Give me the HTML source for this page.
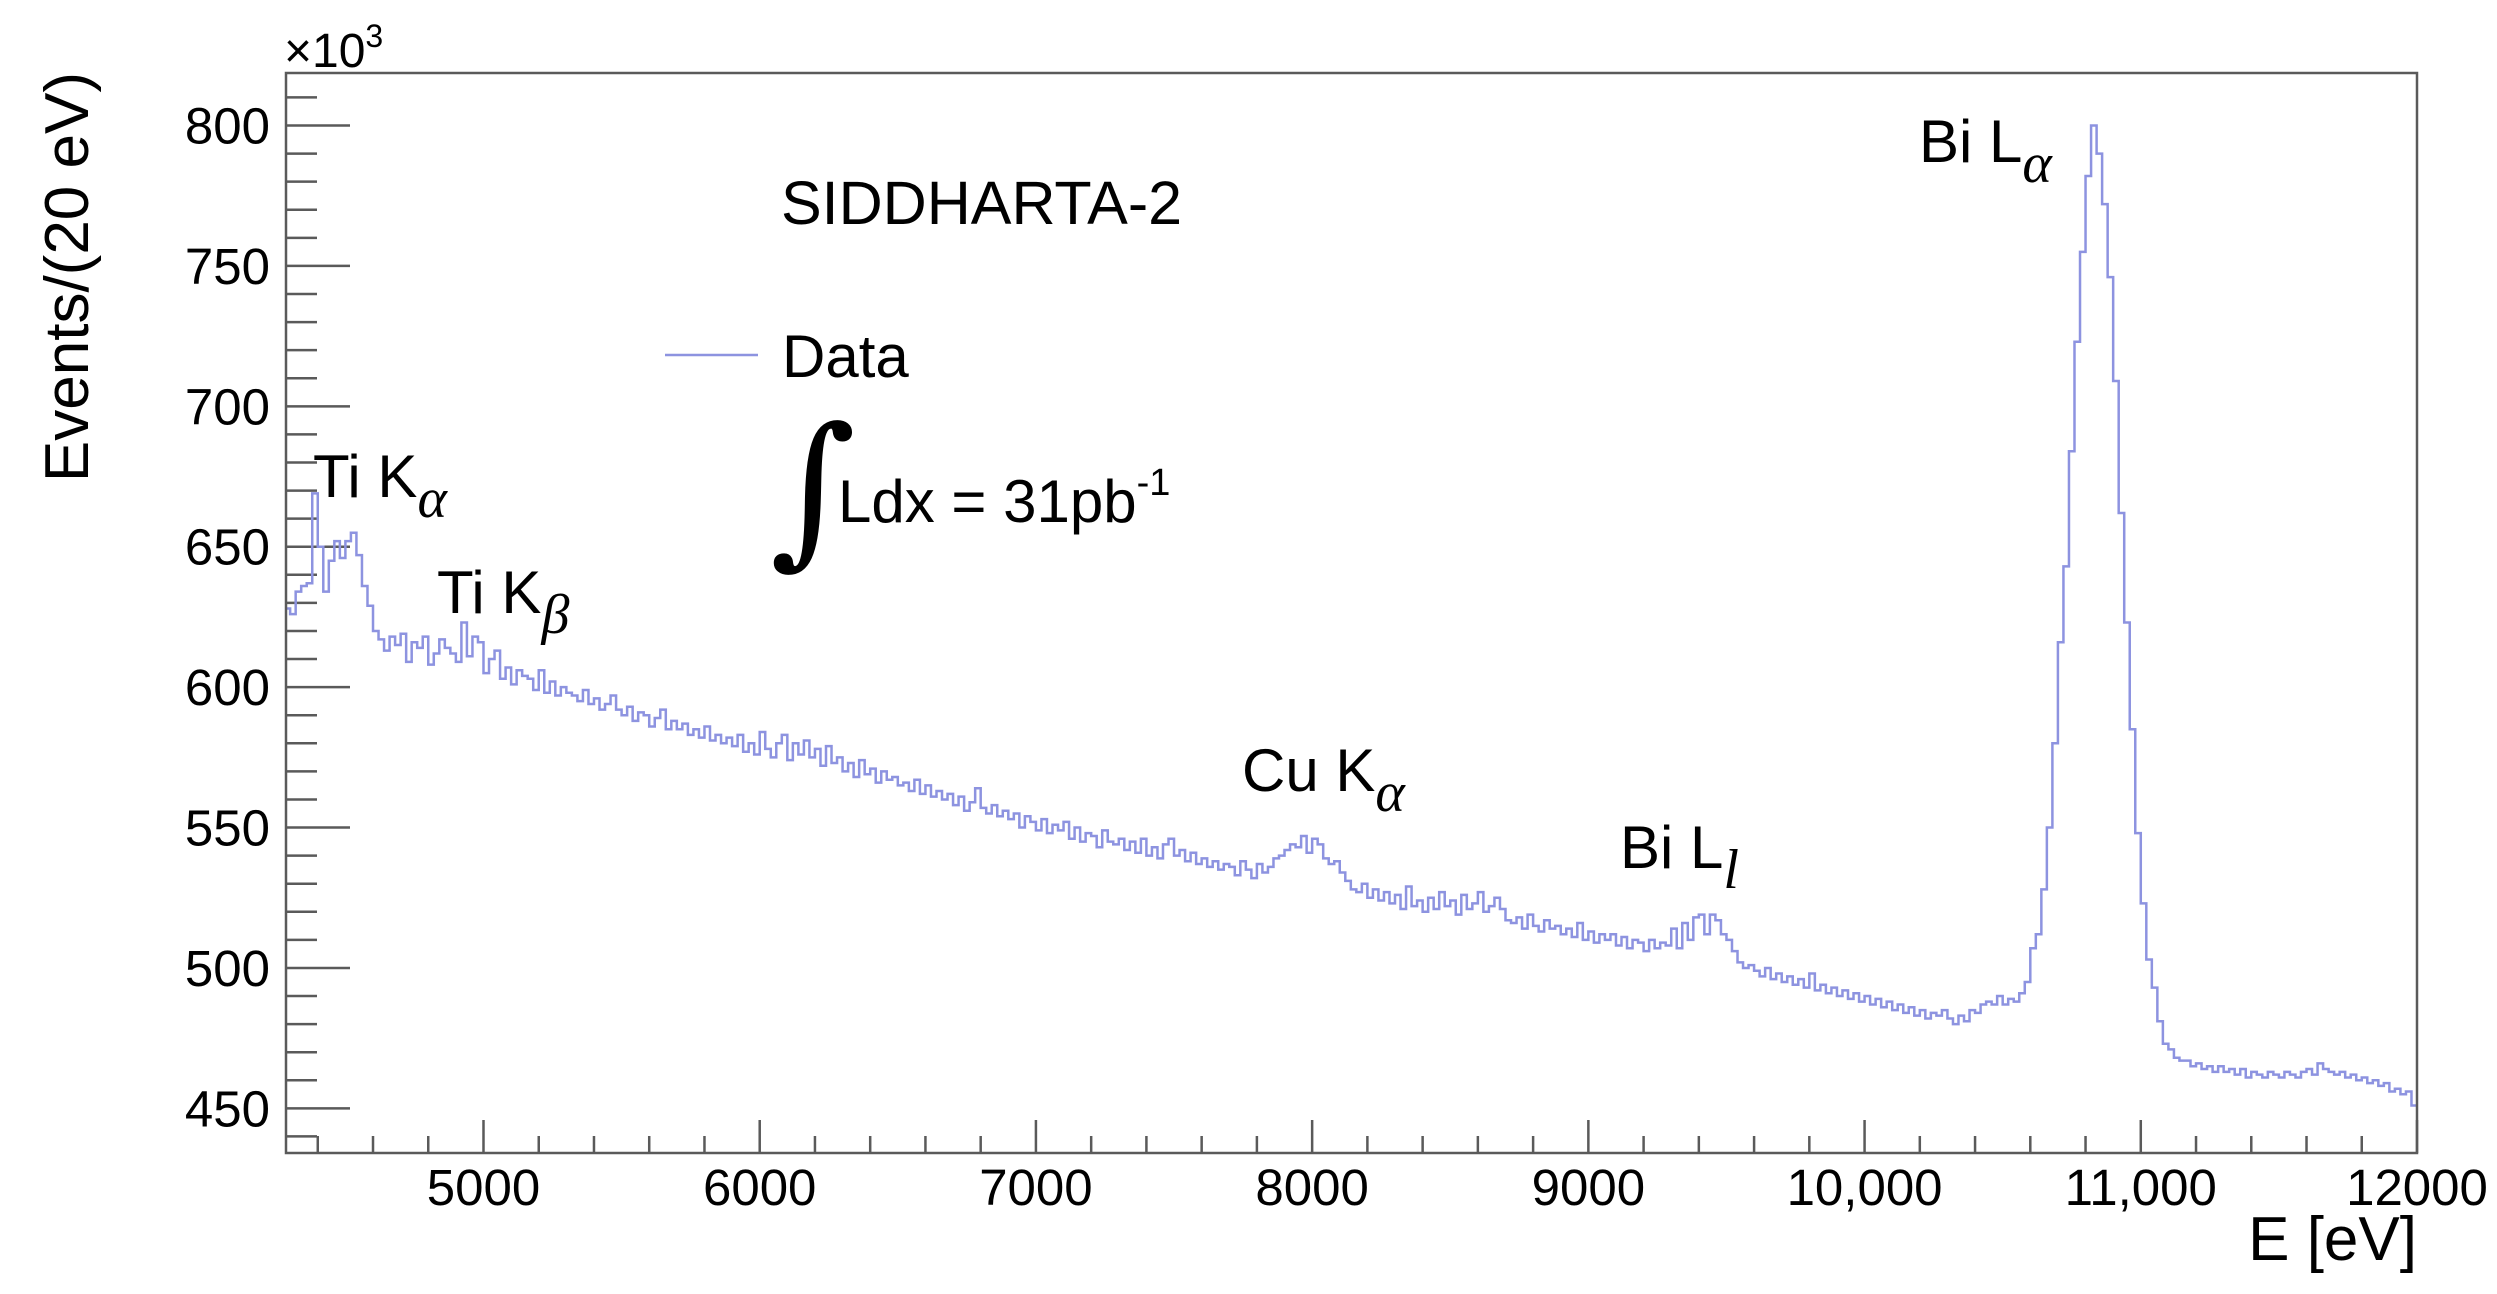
<!DOCTYPE html>
<html><head><meta charset="utf-8">
<style>
html,body{margin:0;padding:0;background:#fff;}
svg{display:block;font-family:"Liberation Sans",Arial,sans-serif;}
</style></head>
<body>
<svg id="chart" width="2497" height="1294" viewBox="0 0 2497 1294" xmlns="http://www.w3.org/2000/svg">
<rect x="0" y="0" width="2497" height="1294" fill="#fff"/>
<g id="ticks"></g>
<g id="series"></g>
<rect x="286" y="73" width="2131" height="1080" fill="none" stroke="#5a5a5a" stroke-width="2.5"/>
<g id="labels" font-size="51" fill="#000"></g>
<text x="284" y="67" font-size="48">×10<tspan font-size="32" dy="-20">3</tspan></text>
<text transform="translate(88,72) rotate(-90)" text-anchor="end" font-size="62">Events/(20 eV)</text>
<text x="2417" y="1260" text-anchor="end" font-size="62">E [eV]</text>
<text x="781" y="224" font-size="61">SIDDHARTA-2</text>
<g>
<line x1="665" y1="355" x2="758" y2="355" stroke="#8d93e0" stroke-width="2.5"/>
<text x="782" y="377" font-size="60">Data</text>
</g>
<text x="770" y="545" font-size="165" font-family="'DejaVu Serif',serif">∫</text>
<text x="838" y="522" font-size="60">Ldx = 31pb<tspan font-size="38" dy="-27">-1</tspan></text>
<text x="313" y="497" font-size="60">Ti K<tspan font-family="'Liberation Serif',serif" font-style="italic" font-size="56" dy="20">α</tspan></text>
<text x="437" y="613" font-size="60">Ti K<tspan font-family="'Liberation Serif',serif" font-style="italic" font-size="56" dy="20">β</tspan></text>
<text x="1242" y="791" font-size="60">Cu K<tspan font-family="'Liberation Serif',serif" font-style="italic" font-size="56" dy="20">α</tspan></text>
<text x="1620" y="868" font-size="60">Bi L<tspan font-family="'Liberation Serif',serif" font-style="italic" font-size="56" dy="20">l</tspan></text>
<text x="1919" y="162" font-size="60">Bi L<tspan font-family="'Liberation Serif',serif" font-style="italic" font-size="56" dy="20">α</tspan></text>
</svg>
<script>
// ---- data (thousands of events per 20 eV bin) ----
const binStart = 4280;
const binWidth = 20;
const counts = [
628,626,634,636,637,669,650,634,645,652,
646,652,655,647,636,629,620,617,613,618,
615,619,609,616,614,618,608,612,617,614,
612,609,623,611,618,616,605,610,613,603,
607,601,606,604,603,599,606,598,602,597,
600,598,597,595,599,594,596,592,594,597,
592,590,593,588,591,590,586,589,592,585,
588,585,587,583,585,582,586,581,583,580,
582,579,583,577,580,576,584,578,575,580,
583,574,580,576,581,575,578,572,579,573,
575,570,573,568,574,569,571,566,570,567,
568,565,566,563,567,562,565,561,563,560,
562,558,561,556,559,564,557,555,558,554,
556,553,555,550,554,552,549,553,548,551,
549,552,546,550,545,548,547,543,549,545,
544,546,542,545,541,546,540,543,539,544,
546,540,542,538,541,537,539,536,538,535,
537,536,533,538,535,532,537,534,536,539,
540,542,544,543,547,541,546,544,539,537,
538,534,531,528,527,530,525,528,524,527,
523,526,521,529,522,524,520,525,521,527,
522,524,519,526,521,523,527,520,522,525,
521,517,516,518,514,519,515,513,517,514,
515,512,514,511,516,510,513,509,512,510,
512,508,511,507,510,509,506,510,507,509,
508,514,507,516,510,518,519,512,519,517,
512,510,506,502,500,501,499,497,500,496,
498,495,497,494,496,493,498,492,494,491,
493,490,492,489,491,488,490,487,489,486,
488,485,487,484,486,483,485,482,484,483,
485,482,480,483,481,485,484,487,488,487,
490,487,489,488,491,495,507,512,528,550,
580,616,643,684,723,755,782,800,790,772,
746,709,662,623,585,548,523,503,493,481,
473,471,468,467,467,465,466,464,465,463,
465,463,464,462,464,461,463,462,461,463,
462,461,463,462,461,463,464,462,466,464,
463,462,463,461,462,460,461,459,460,458,
459,456,457,455,456,451
];
const xTickValues = [5000,6000,7000,8000,9000,10000,11000,12000];
const xTickLabels = ["5000","6000","7000","8000","9000","10,000","11,000","12000"];
const yTickValues = [450,500,550,600,650,700,750,800];
const yTickLabels = ["450","500","550","600","650","700","750","800"];

const X0=286, X1=2417, Y0=1153, Y1=73;
const xMin=4285, xMax=12000, yMin=434.1, yMax=818.7;
function sx(v){return X0+(v-xMin)/(xMax-xMin)*(X1-X0);}
function sy(v){return Y0-(v-yMin)/(yMax-yMin)*(Y0-Y1);}
const NS="http://www.w3.org/2000/svg";
function mk(tag,attrs,parent){const e=document.createElementNS(NS,tag);for(const k in attrs)e.setAttribute(k,attrs[k]);parent.appendChild(e);return e;}

const ser=document.getElementById('series');
let d="";
for(let i=0;i<counts.length;i++){
  let a=Math.max(binStart+i*binWidth,xMin), b=Math.min(binStart+(i+1)*binWidth,xMax);
  const y=sy(counts[i]);
  d+=(i===0?"M":"L")+sx(a).toFixed(2)+","+y.toFixed(2)+"L"+sx(b).toFixed(2)+","+y.toFixed(2);
}
const p=mk('path',{d:d,fill:"none",stroke:"#8d93e0","stroke-width":"2.5","stroke-linejoin":"miter"},ser);



const tg=document.getElementById('ticks'), lg=document.getElementById('labels');
for(let v=4400; v<=12000; v+=200){
  const major=(v%1000===0);
  const x=sx(v);
  const t=mk('line',{x1:x,x2:x,y1:Y0,y2:Y0-(major?33:17),stroke:"#5a5a5a","stroke-width":"2.5"},tg);
  
  
}
for(let v=440; v<=810; v+=10){
  const major=(v%50===0);
  const y=sy(v);
  const t=mk('line',{x1:X0,x2:X0+(major?64:31),y1:y,y2:y,stroke:"#5a5a5a","stroke-width":"2.5"},tg);
  
  
}
xTickValues.forEach((v,i)=>{
  const t=mk('text',{x:sx(v),y:1205,"text-anchor":"middle"},lg);
  t.textContent=xTickLabels[i];
  
  
});
yTickValues.forEach((v,i)=>{
  const t=mk('text',{x:270,y:sy(v)+18,"text-anchor":"end"},lg);
  t.textContent=yTickLabels[i];
  
  
});
</script>
</body></html>
